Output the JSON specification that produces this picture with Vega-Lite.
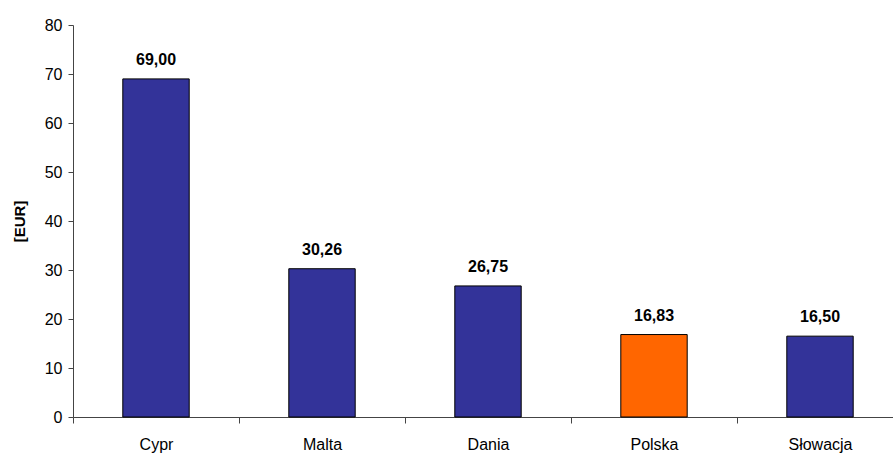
{
  "$schema": "https://vega.github.io/schema/vega-lite/v6.json",
  "autosize": {"type": "none"},
  "width": 820,
  "height": 392,
  "padding": {"left": 73, "top": 25, "right": 0, "bottom": 37},
  "background": "white",
  "config": {
    "view": {"stroke": null},
    "font": "Liberation Sans",
    "locale": {"number": {"decimal": ",", "thousands": " ", "grouping": [3], "currency": ["", " €"]}}
  },
  "data": {
    "values": [
      {"kraj": "Cypr", "wartosc": 69.00, "grupa": "inne"},
      {"kraj": "Malta", "wartosc": 30.26, "grupa": "inne"},
      {"kraj": "Dania", "wartosc": 26.75, "grupa": "inne"},
      {"kraj": "Polska", "wartosc": 16.83, "grupa": "Polska"},
      {"kraj": "Słowacja", "wartosc": 16.50, "grupa": "inne"}
    ]
  },
  "encoding": {
    "x": {
      "field": "kraj",
      "type": "nominal",
      "sort": null,
      "scale": {"range": [0, 830], "paddingInner": 0.6, "paddingOuter": 0.3},
      "axis": {
        "title": null,
        "labelAngle": 0,
        "labelFontSize": 16,
        "labelColor": "black",
        "labelPadding": 13,
        "tickOffset": -83,
        "labelOffset": 83,
        "tickSize": 6,
        "tickColor": "#444",
        "domainColor": "#444",
        "grid": false
      }
    },
    "y": {
      "field": "wartosc",
      "type": "quantitative",
      "scale": {"domain": [0, 80], "nice": false},
      "axis": {
        "title": "[EUR]",
        "titleFontSize": 15,
        "titleFontWeight": "bold",
        "titleColor": "black",
        "titlePadding": 17,
        "values": [0, 10, 20, 30, 40, 50, 60, 70, 80],
        "format": "d",
        "labelFontSize": 16,
        "labelColor": "black",
        "labelPadding": 6,
        "tickSize": 5,
        "tickColor": "#444",
        "domainColor": "#444",
        "grid": false
      }
    }
  },
  "layer": [
    {
      "mark": {"type": "bar", "stroke": "black", "strokeWidth": 1},
      "encoding": {
        "color": {
          "field": "grupa",
          "type": "nominal",
          "scale": {"domain": ["inne", "Polska"], "range": ["#333399", "#FF6600"]},
          "legend": null
        }
      }
    },
    {
      "mark": {"type": "text", "fontWeight": "bold", "fontSize": 16, "baseline": "alphabetic", "dy": -14, "color": "black"},
      "encoding": {
        "text": {"field": "wartosc", "type": "quantitative", "format": ".2f"}
      }
    }
  ]
}
